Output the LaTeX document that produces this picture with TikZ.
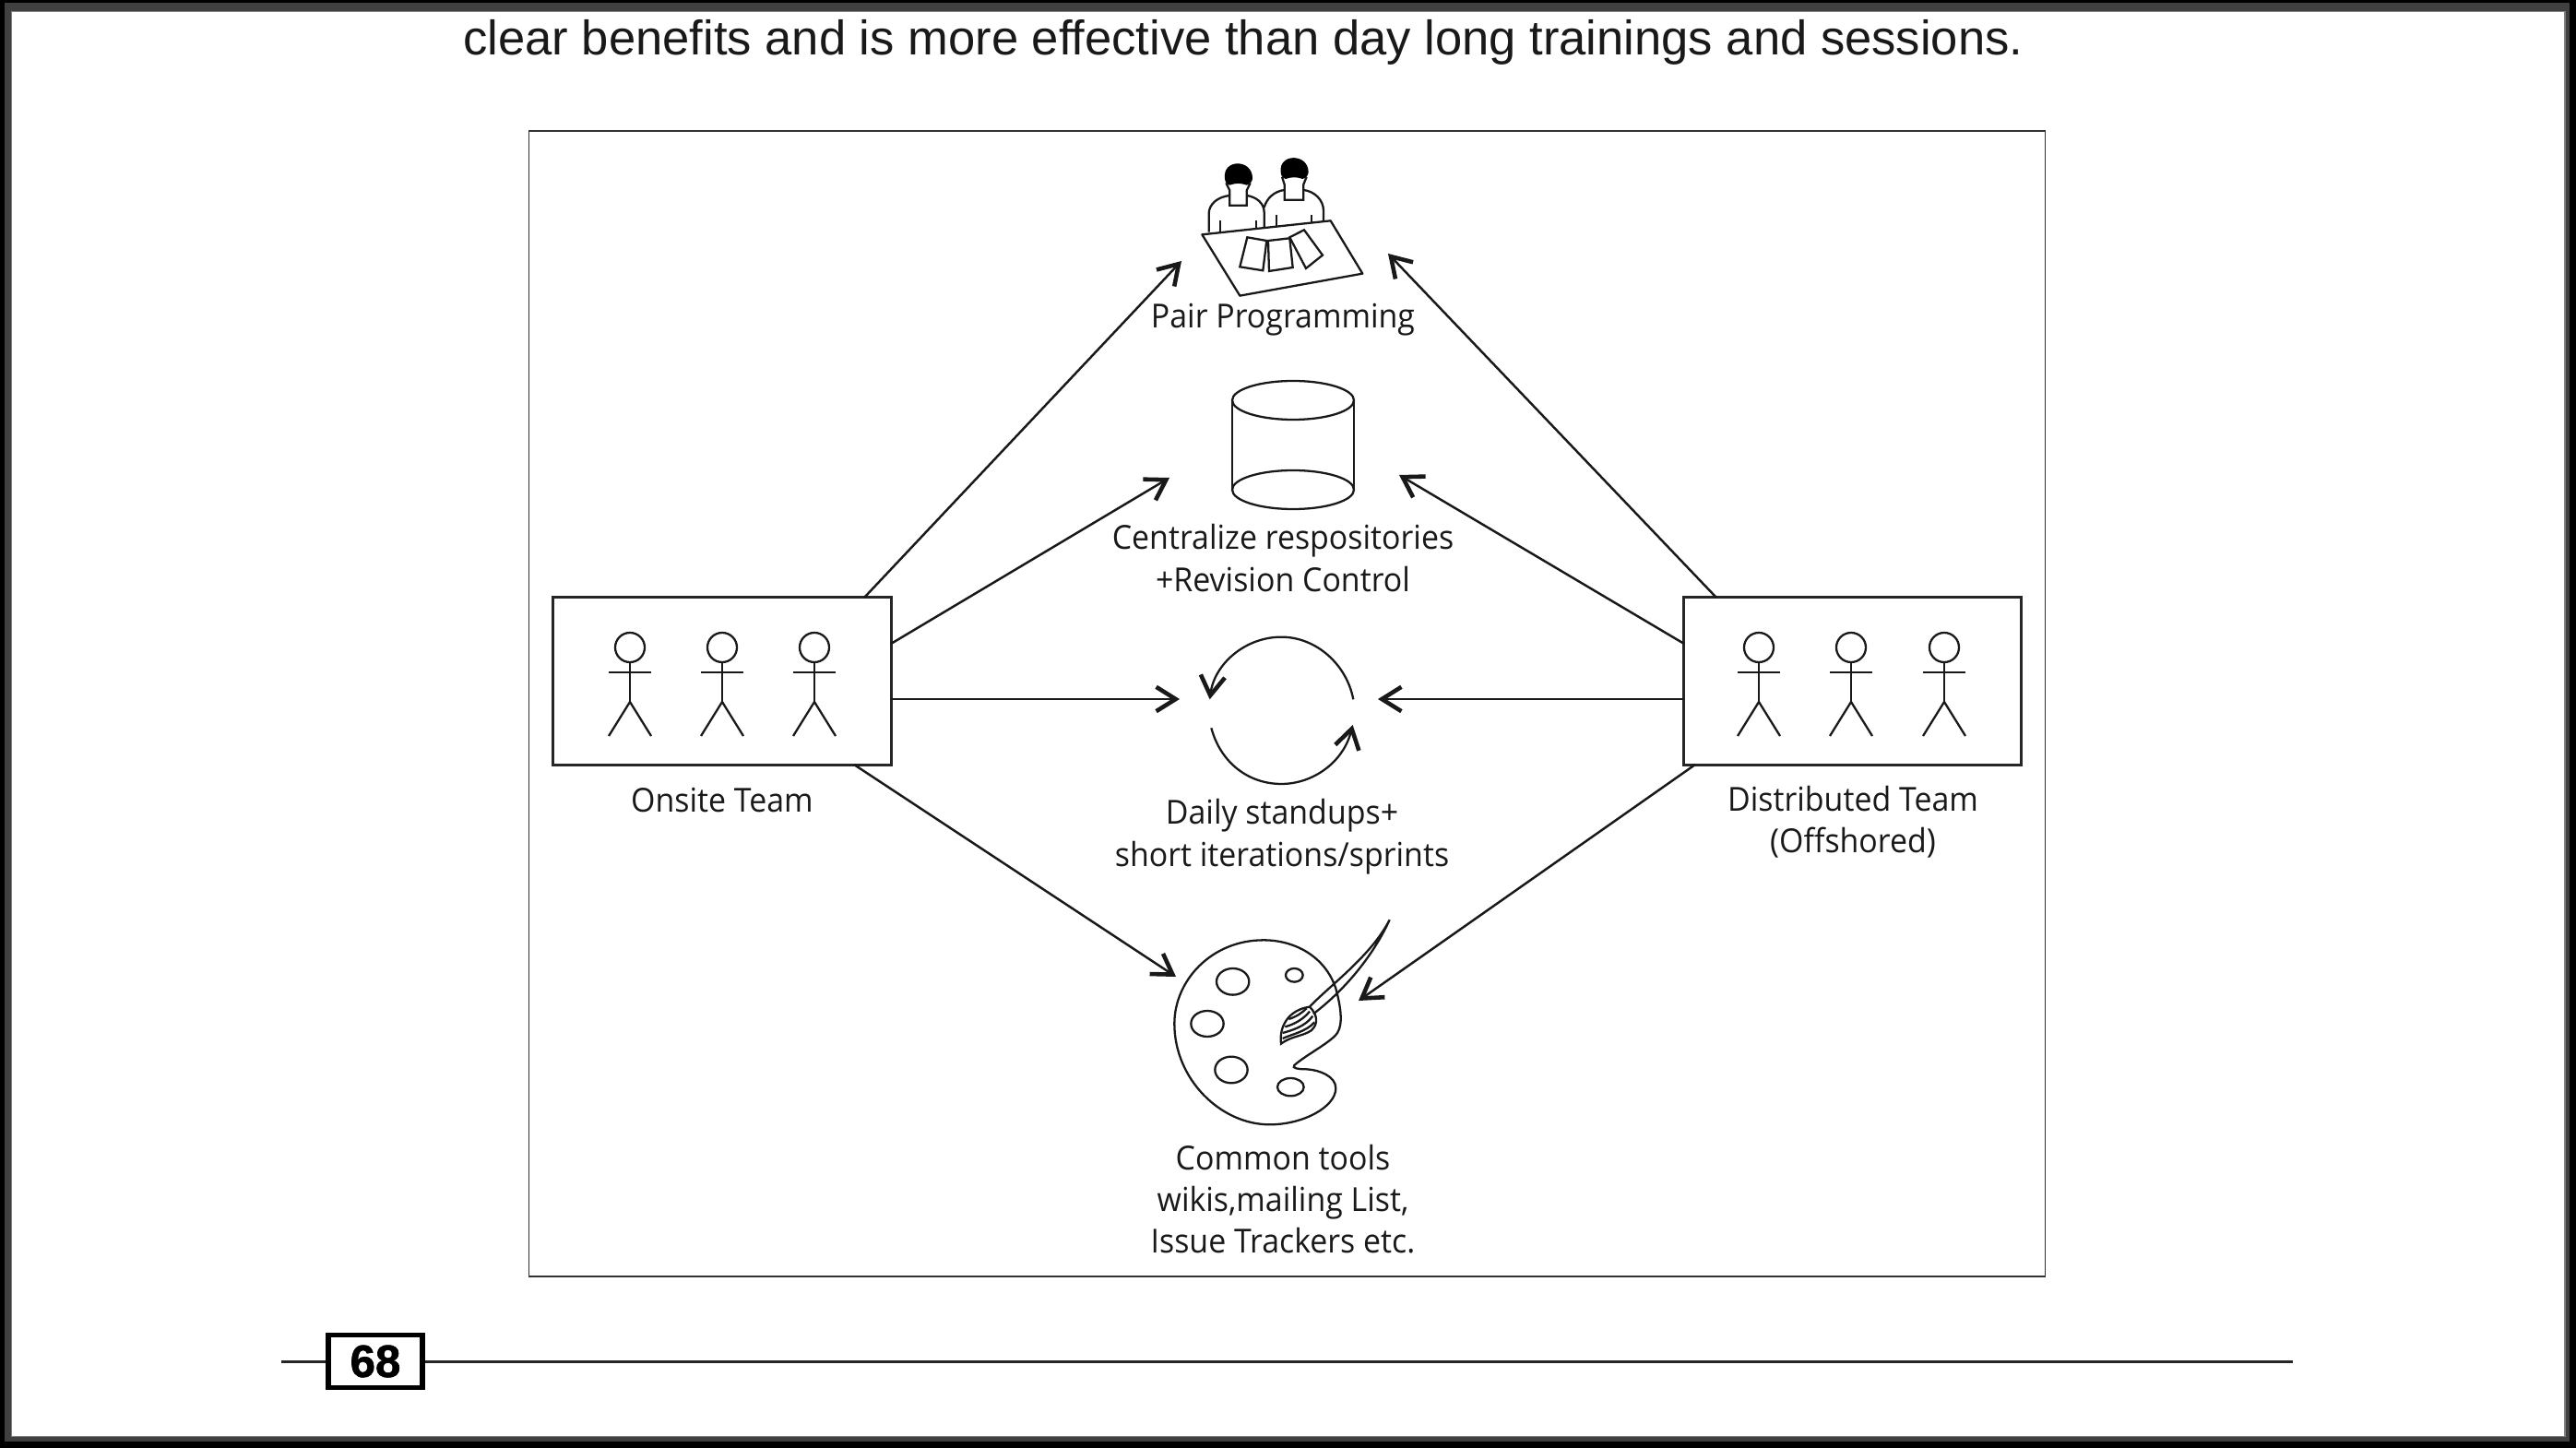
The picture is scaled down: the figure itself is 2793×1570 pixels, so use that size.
\documentclass[tikz,border=0pt]{standalone}
\usepackage{fontspec}
\setmainfont[FakeStretch=0.945]{Open Sans}
\newfontfamily\headfont{Liberation Sans}
\newfontfamily\pagefont[BoldFeatures={FakeBold=1.3}]{Liberation Sans}
\usepackage{tikz}
\usetikzlibrary{arrows.meta}

\begin{document}
\begin{tikzpicture}[x=0.01cm, y=-0.01cm, line width=0.7pt, inner sep=0pt, font=\fontsize{10.2}{12.9}\selectfont]
		\tikzstyle{teambox} = [rectangle, minimum width=3.66cm, minimum height=1.81cm, draw=black!85, line width=0.85pt]
		
		\tikzstyle{frame} = [rectangle, minimum width=16.43cm, minimum height=12.42cm, draw=black!80, line width=0.55pt]
		
		\tikzstyle{caption} = [text=black!90, align=center]
		
		\tikzstyle{arrow} = [-{Straight Barb[length=6pt, width=7.5pt, line width=1.3pt]}, draw=black!90]
		
		\tikzstyle{icon} = [draw=black!90, line width=0.65pt]
		
		\useasboundingbox (0,0) rectangle (2793,1570);
		
		% Page edge
		\fill [black] (0,0) rectangle (2793,1570);
		\fill [black!75] (5,3) rectangle (2786,1563);
		\fill [black!50] (12,12) rectangle (2782,1558);
		\fill [white] (13,13) rectangle (2780,1557);
		
		% Line of text above the figure
		\node (bodyline) [anchor=base, text=black!90, font=\headfont\fontsize{14.95}{18}\selectfont] at (1348,60) {clear benefits and is more effective than day long trainings and sessions.};
		
		% Figure frame and team boxes
		\node (frame) [frame] at (1395.5,763) {};
		\node (onsite) [teambox] at (783,738.5) {};
		\node (distributed) [teambox] at (2008.5,738.5) {};
		
		% People in the team boxes
		\foreach \x in {683,783,883,1907,2007,2108} {
			\draw [icon] (\x,702) circle (16);
			\draw [icon] (\x,718) -- (\x,761);
			\draw [icon] (\x-23,729) -- (\x+23,729);
			\draw [icon] (\x-23,798) -- (\x,761) -- (\x+23,798);
		}
		
		% Pair programming icon
		\begin{scope}[shift={(1240,150)}, scale=0.3333]
			\draw [icon, line join=round] (190,313) -- (608,268) -- (712,440) -- (313,512) -- cycle;
			\fill [black] (264,130) .. controls (256,66) and (354,66) .. (354,130) .. controls (354,140) and (345,150) .. (335,152) .. controls (315,145) and (300,145) .. (280,152) .. controls (270,150) and (264,140) .. (264,130) -- cycle;
			\draw [icon] (268,145) -- (280,170) -- (280,218) -- (335,218) -- (335,170) -- (347,145);
			\draw [icon] (212,305) -- (212,245) .. controls (212,215) and (240,190) .. (280,186);
			\draw [icon] (335,186) .. controls (365,190) and (392,210) .. (392,240) -- (392,288);
			\draw [icon] (250,268) -- (250,303);
			\draw [icon] (365,268) -- (365,292);
			\fill [black] (446,110) .. controls (438,48) and (536,48) .. (536,110) .. controls (536,120) and (527,130) .. (517,132) .. controls (497,125) and (482,125) .. (462,132) .. controls (452,130) and (446,120) .. (446,110) -- cycle;
			\draw [icon] (450,125) -- (458,150) -- (458,200) -- (520,200) -- (520,150) -- (530,125);
			\draw [icon] (392,225) .. controls (400,195) and (425,172) .. (458,168);
			\draw [icon] (520,168) .. controls (555,172) and (585,200) .. (585,235) -- (585,268);
			\draw [icon] (432,250) -- (432,284);
			\draw [icon] (547,250) -- (547,272);
			\draw [icon] (337,322) -- (400,333) -- (388,430) -- (313,418) -- cycle;
			\draw [icon] (405,333) -- (475,325) -- (485,420) -- (408,432) -- cycle;
			\draw [icon] (475,322) -- (522,298) -- (582,380) -- (528,423) -- cycle;
		\end{scope}
		
		% Repository icon
		\draw [icon] (1402,434) ellipse (66 and 21);
		\draw [icon] (1402,531) ellipse (66 and 21);
		\draw [icon] (1336,434) -- (1336,531);
		\draw [icon] (1468,434) -- (1468,531);
		
		% Standup cycle icon
		\begin{scope}[shift={(1270,670)}, scale=0.3333]
			\draw [icon, arrow] (592,265) .. controls (570,150) and (470,62) .. (358,62) .. controls (240,62) and (140,150) .. (125,265);
			\draw [icon, arrow] (130,358) .. controls (160,470) and (250,540) .. (358,540) .. controls (460,540) and (560,470) .. (590,348);
		\end{scope}
		
		% Palette icon
		\begin{scope}[shift={(1240,980)}, scale=0.3333]
			\draw [icon] (490,525) .. controls (530,490) and (610,450) .. (630,420) .. controls (650,390) and (640,330) .. (625,275) .. controls (590,170) and (490,118) .. (390,118) .. controls (220,118) and (100,250) .. (100,390) .. controls (100,570) and (250,718) .. (410,718) .. controls (520,718) and (625,660) .. (625,600) .. controls (625,560) and (570,540) .. (530,538) .. controls (505,538) and (480,535) .. (490,525) -- cycle;
			\draw [icon] (290,253) ellipse (53 and 43);
			\draw [icon] (490,232) ellipse (28 and 22);
			\draw [icon] (207,390) ellipse (53 and 42);
			\draw [icon] (285,540) ellipse (53 and 43);
			\draw [icon] (478,596) ellipse (43 and 29);
			\draw [icon] (540,335) .. controls (600,270) and (740,170) .. (800,52) .. controls (760,140) and (680,260) .. (552,358);
			\draw [icon] (447,455) .. controls (440,400) and (470,345) .. (540,335) .. controls (565,360) and (570,390) .. (545,412) .. controls (520,430) and (480,430) .. (447,455) -- cycle;
			\draw [icon] (452,438) .. controls (480,425) and (530,415) .. (556,385);
			\draw [icon] (452,420) .. controls (480,412) and (525,400) .. (550,365);
			\draw [icon] (460,400) .. controls (490,392) and (520,375) .. (540,350);
			\draw [icon] (472,375) .. controls (495,368) and (515,355) .. (530,340);
		\end{scope}
		
		% Labels
		\node (pair) [caption, anchor=base] at (1391,356) {Pair Programming};
		\node (repos) [caption] at (1391,605) {Centralize respositories\\ +Revision Control};
		\node (onsitename) [caption, anchor=base] at (783,880) {Onsite Team};
		\node (distname) [caption] at (2009,891) {Distributed Team\\ (Offshored)};
		\node (standups) [caption] at (1390,907) {Daily standups+\\ short iterations/sprints};
		\node (tools) [caption] at (1391,1300) {Common tools\\ wikis,mailing List,\\ Issue Trackers etc.};
		
		% Arrow ends
		\coordinate (onsitePair) at (937,648);
		\coordinate (onsiteRepo) at (966,698);
		\coordinate (onsiteTools) at (926,829);
		\coordinate (distPair) at (1861,648);
		\coordinate (distRepo) at (1826,698);
		\coordinate (distTools) at (1838,829);
		\coordinate (pairLeft) at (1281,283);
		\coordinate (pairRight) at (1505,275);
		\coordinate (repoLeft) at (1268,518);
		\coordinate (repoRight) at (1517,515);
		\coordinate (dailyLeft) at (1279,758);
		\coordinate (dailyRight) at (1494,758);
		\coordinate (onsiteDaily) at (966,758);
		\coordinate (distDaily) at (1826,758);
		\coordinate (toolsLeft) at (1275,1059);
		\coordinate (toolsRight) at (1473,1085);
		
		% Arrows
		\draw [arrow] (onsitePair) -- (pairLeft);
		\draw [arrow] (onsiteRepo) -- (repoLeft);
		\draw [arrow] (onsiteDaily) -- (dailyLeft);
		\draw [arrow] (onsiteTools) -- (toolsLeft);
		\draw [arrow] (distPair) -- (pairRight);
		\draw [arrow] (distRepo) -- (repoRight);
		\draw [arrow] (distDaily) -- (dailyRight);
		\draw [arrow] (distTools) -- (toolsRight);
		
		% Page number
		\coordinate (ruleleft) at (305,1476);
		\coordinate (ruleright) at (2486,1476);
		\node (pagebox) [rectangle, draw=black, line width=1.5pt, minimum width=1.02cm, minimum height=0.57cm, font=\pagefont\bfseries\fontsize{14}{16}\selectfont] at (407,1476) {68};
		\draw [draw=black!85, line width=0.85pt] (ruleleft) -- (pagebox);
		\draw [draw=black!85, line width=0.85pt] (pagebox) -- (ruleright);
\end{tikzpicture}
\end{document}
